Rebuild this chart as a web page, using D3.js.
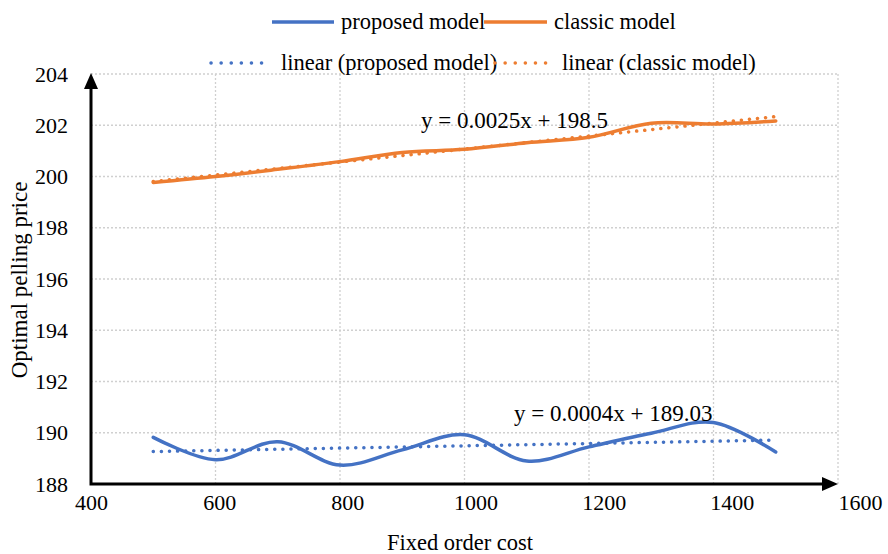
<!DOCTYPE html>
<meta charset="utf-8">
<style>
    body {
        margin: 0;
        background: #fff;
    }

    text {
        font-family: "Liberation Serif", "Times New Roman", serif;
        font-size: 22.5px;
        fill: #000;
    }
</style>
<div id="container"></div>
<script src="https://cdn.jsdelivr.net/npm/d3@7"></script>
<script>
    // data
    const costs = [500, 600, 700, 800, 900, 1000, 1100, 1200, 1300, 1400, 1500];
    const proposed = [189.82, 188.95, 189.65, 188.74, 189.33, 189.92, 188.9, 189.45, 189.98, 190.4, 189.25];
    const classic = [199.77, 200.0, 200.28, 200.58, 200.94, 201.06, 201.32, 201.53, 202.08, 202.05, 202.17];
    const xTicks = [400, 600, 800, 1000, 1200, 1400, 1600];
    const yTicks = [188, 190, 192, 194, 196, 198, 200, 202, 204];
    const trendLabels = ["y = 0.0025x + 198.5", "y = 0.0004x + 189.03"];

    const width = 888, height = 554;
    const blue = "#4472C4", orange = "#ED7D31";

    const svg = d3.select("#container").append("svg")
        .attr("width", width)
        .attr("height", height);

    // plot box
    const pLeft = 91, pRight = 838, pTop = 74, pBottom = 484;

    const x = d3.scaleLinear().domain([400, 1600]).range([pLeft, pRight]);
    // tick labels in the picture drift a bit to the right of the grid
    const xLab = d3.scaleLinear().domain([400, 1600]).range([91, 860]);
    const y = d3.scaleLinear().domain([188, 204]).range([pBottom, pTop]);

    // grid
    svg.append("g")
        .selectAll("line")
        .data(yTicks.filter(d => d > 188))
        .join("line")
        .attr("x1", pLeft).attr("x2", pRight)
        .attr("y1", d => y(d)).attr("y2", d => y(d))
        .attr("stroke", "#d0d0d0")
        .attr("stroke-width", 1.3)
        .attr("stroke-dasharray", "2 2");

    svg.append("g")
        .selectAll("line")
        .data(xTicks.filter(d => d > 400))
        .join("line")
        .attr("x1", d => x(d)).attr("x2", d => x(d))
        .attr("y1", pTop).attr("y2", pBottom)
        .attr("stroke", "#d0d0d0")
        .attr("stroke-width", 1.3)
        .attr("stroke-dasharray", "2 2");

    // tick labels
    const xAxis = svg.append("g")
        .attr("transform", `translate(0,${pBottom + 10})`)
        .call(d3.axisBottom(xLab).tickValues(xTicks).tickFormat(d3.format("d")).tickSize(0).tickPadding(0));
    xAxis.select(".domain").remove();
    xAxis.selectAll("text")
        .attr("dy", "0.71em")
        .style("font-size", "22px")
        .style("font-family", "Liberation Serif");

    const yAxis = svg.append("g")
        .attr("transform", `translate(${pLeft - 23},0)`)
        .call(d3.axisLeft(y).tickValues(yTicks).tickFormat(d3.format("d")).tickSize(0).tickPadding(0));
    yAxis.select(".domain").remove();
    yAxis.selectAll("text")
        .style("font-size", "22px")
        .style("font-family", "Liberation Serif");

    // least squares trend, like excel's linear trendline
    function trend(xs, ys) {
        const mx = d3.mean(xs), my = d3.mean(ys);
        const b = d3.sum(xs, (v, i) => (v - mx) * (ys[i] - my)) / d3.sum(xs, v => (v - mx) ** 2);
        return [b, my - b * mx];
    }

    const line = d3.line()
        .x(d => x(d[0]))
        .y(d => y(d[1]))
        .curve(d3.curveCatmullRom.alpha(0));

    const series = [
        {vals: classic, color: orange},
        {vals: proposed, color: blue}
    ];

    series.forEach(s => {
        const [b, a] = trend(costs, s.vals);
        const x0 = costs[0], x1 = costs[costs.length - 1];
        svg.append("line")
            .attr("x1", x(x0)).attr("y1", y(a + b * x0))
            .attr("x2", x(x1)).attr("y2", y(a + b * x1))
            .attr("stroke", s.color)
            .attr("stroke-width", 3.5)
            .attr("stroke-linecap", "round")
            .attr("stroke-dasharray", "0.1 8");

        svg.append("path")
            .datum(costs.map((c, i) => [c, s.vals[i]]))
            .attr("d", line)
            .attr("fill", "none")
            .attr("stroke", s.color)
            .attr("stroke-width", 3.5)
            .attr("stroke-linecap", "round");
    });

    // equations
    svg.append("text").attr("x", 421).attr("y", 128).text(trendLabels[0]).style("font-size", "23px");
    svg.append("text").attr("x", 514).attr("y", 421).text(trendLabels[1]).style("font-size", "23px");

    // axes with arrows
    svg.append("path")
        .attr("d", `M${pLeft},${pTop + 14}V${pBottom}H${pRight - 14}`)
        .attr("fill", "none")
        .attr("stroke", "#000")
        .attr("stroke-width", 3);
    svg.append("path")
        .attr("d", `M${pLeft},${pTop - 1}l-7,16h14z`)
        .attr("fill", "#000");
    svg.append("path")
        .attr("d", `M${pRight},${pBottom}l-16,-7v14z`)
        .attr("fill", "#000");

    // axis titles
    svg.append("text")
        .attr("x", 460).attr("y", 550)
        .attr("text-anchor", "middle")
        .text("Fixed order cost");
    svg.append("text")
        .attr("transform", "translate(27,280) rotate(-90)")
        .attr("text-anchor", "middle")
        .style("font-size", "23px")
        .text("Optimal pelling price");

    // legend
    const legend = [
        {name: "proposed model", color: blue, dash: null, x1: 272, x2: 334, tx: 341, y: 22},
        {name: "classic model", color: orange, dash: null, x1: 484, x2: 547, tx: 554, y: 22},
        {name: "linear (proposed model)", color: blue, dash: "0.1 10", x1: 211, x2: 271, tx: 281, y: 63},
        {name: "linear (classic model)", color: orange, dash: "0.1 10", x1: 495, x2: 553, tx: 562, y: 63}
    ];
    const lg = svg.append("g").selectAll("g").data(legend).join("g");
    lg.append("line")
        .attr("x1", d => d.x1).attr("x2", d => d.x2)
        .attr("y1", d => d.y).attr("y2", d => d.y)
        .attr("stroke", d => d.color)
        .attr("stroke-width", 3.5)
        .attr("stroke-linecap", d => d.dash ? "round" : "butt")
        .attr("stroke-dasharray", d => d.dash);
    lg.append("text")
        .attr("x", d => d.tx).attr("y", d => d.y + 7)
        .text(d => d.name);
</script>
